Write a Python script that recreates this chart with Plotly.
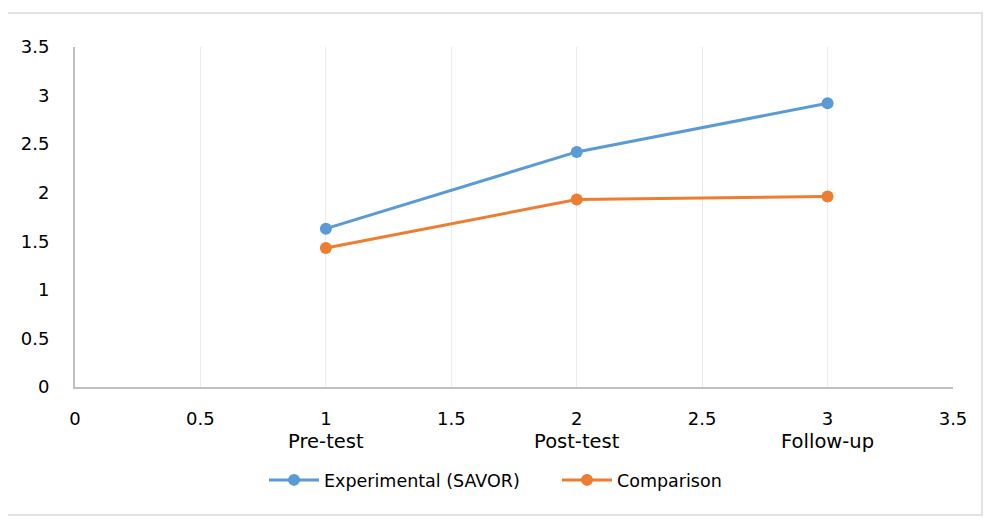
import plotly.graph_objects as go

x_vals = [1, 2, 3]
experimental = [1.63, 2.42, 2.92]
comparison = [1.43, 1.93, 1.96]
x_tickvals = [0, 0.5, 1, 1.5, 2, 2.5, 3, 3.5]
x_numbers = ["0", "0.5", "1", "1.5", "2", "2.5", "3", "3.5"]
x_phases = ["", "", "Pre-test", "", "Post-test", "", "Follow-up", ""]
y_tickvals = [0, 0.5, 1, 1.5, 2, 2.5, 3, 3.5]
y_ticktext = ["0", "0.5", "1", "1.5", "2", "2.5", "3", "3.5"]

x_ticktext = [n if not p else f"{n}<br><span style='font-size:19.5px'>{p}</span>"
              for n, p in zip(x_numbers, x_phases)]

FONT = "DejaVu Sans"
OFF = 8  # page body margin
W, H = 1001 - OFF, 531 - OFF
L, T = 75 - OFF, 47 - OFF
R = W - (953 - OFF)
B = H - (387 - OFF)
pw, ph = W - L - R, H - T - B

def px_x(p):
    return (p - OFF - L) / pw

def px_y(p):
    return (H - B - (p - OFF)) / ph

fig = go.Figure()
fig.add_trace(go.Scatter(x=x_vals, y=experimental, mode="lines+markers",
                         name="Experimental (SAVOR)",
                         line=dict(color="#5B9BD5", width=3),
                         marker=dict(color="#5B9BD5", size=12)))
fig.add_trace(go.Scatter(x=x_vals, y=comparison, mode="lines+markers",
                         name="Comparison",
                         line=dict(color="#ED7D31", width=3),
                         marker=dict(color="#ED7D31", size=12)))

fig.update_layout(
    width=W, height=H,
    margin=dict(l=L, r=R, t=T, b=B, pad=0),
    paper_bgcolor="white", plot_bgcolor="white",
    font=dict(family=FONT, size=18, color="#000000"),
    showlegend=True,
    legend=dict(orientation="h", x=px_x(264), xanchor="left",
                y=px_y(480), yanchor="middle",
                font=dict(family=FONT, size=17.5), itemwidth=50,
                entrywidth=228, entrywidthmode="pixels"),
    xaxis=dict(range=[0, 3.5], tickvals=x_tickvals, ticktext=x_ticktext,
               showgrid=True, gridcolor="#EBEBEB", gridwidth=1,
               showline=True, linecolor="#BFBFBF", linewidth=2,
               zeroline=False, ticks="", ticklabelstandoff=14, fixedrange=True),
    yaxis=dict(range=[0, 3.5], tickvals=y_tickvals, ticktext=y_ticktext,
               showgrid=False, showline=True, linecolor="#BFBFBF", linewidth=2,
               zeroline=False, ticks="", ticklabelstandoff=20, fixedrange=True),
    shapes=[dict(type="rect", xref="paper", yref="paper",
                 x0=px_x(3), x1=px_x(982),
                 y0=px_y(515), y1=px_y(13),
                 line=dict(color="#D9D9D9", width=1.5), fillcolor="rgba(0,0,0,0)",
                 layer="below")],
)

fig.write_html("out.html")
